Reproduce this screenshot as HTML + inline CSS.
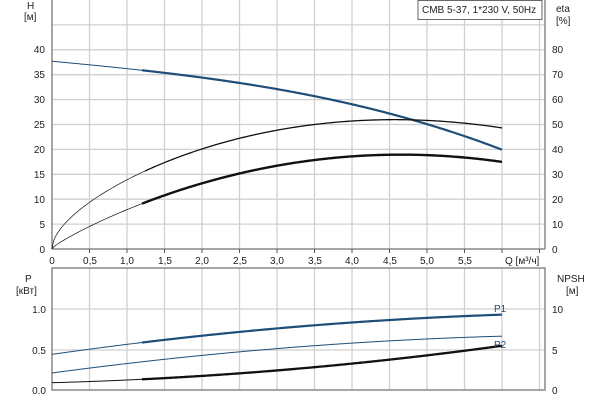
<!DOCTYPE html>
<html><head><meta charset="utf-8"><style>
body{margin:0;background:#fff;}
svg{display:block;font-family:"Liberation Sans",sans-serif;font-size:10px;fill:#222;}
</style></head><body>
<svg id="s" width="600" height="400" viewBox="0 0 600 400" xmlns="http://www.w3.org/2000/svg">
<g id="grid" stroke="#d0d0d0" stroke-width="1.3"></g>
<g stroke="#888" stroke-width="1.5" fill="none">
<line x1="52" y1="0" x2="52" y2="249"/><line x1="545" y1="0" x2="545" y2="249"/><line x1="52" y1="249" x2="545" y2="249"/>
<rect x="52" y="268" width="493" height="122"/>
</g>
<g id="ticks" stroke="#555" stroke-width="1"></g>
<g id="curves" fill="none" stroke-linejoin="round"></g>
<rect x="418" y="0.5" width="124" height="19" fill="#fff" stroke="#666"/>
<text x="422" y="13">CMB 5-37, 1*230 V, 50Hz</text>
<text x="27" y="9">H</text><text x="24" y="20">[м]</text>
<text x="556" y="12">eta</text><text x="556" y="24">[%]</text>
<g text-anchor="end">
<text x="45" y="53">40</text><text x="45" y="78">35</text><text x="45" y="103">30</text><text x="45" y="128">25</text><text x="45" y="153">20</text><text x="45" y="178">15</text><text x="45" y="203">10</text><text x="45" y="228">5</text><text x="45" y="253">0</text>
<text x="46" y="313">1.0</text><text x="46" y="354">0.5</text><text x="46" y="394">0.0</text>
</g>
<g>
<text x="552" y="53">80</text><text x="552" y="78">70</text><text x="552" y="103">60</text><text x="552" y="128">50</text><text x="552" y="153">40</text><text x="552" y="178">30</text><text x="552" y="203">20</text><text x="552" y="228">10</text><text x="552" y="253">0</text>
<text x="552" y="313">10</text><text x="552" y="354">5</text><text x="552" y="394">0</text>
</g>
<g text-anchor="middle">
<text x="52" y="264">0</text><text x="90" y="264">0,5</text><text x="127" y="264">1,0</text><text x="165" y="264">1,5</text><text x="202" y="264">2,0</text><text x="240" y="264">2,5</text><text x="277" y="264">3,0</text><text x="315" y="264">3,5</text><text x="352" y="264">4,0</text><text x="390" y="264">4,5</text><text x="427" y="264">5,0</text><text x="465" y="264">5,5</text>
</g>
<text x="505" y="264">Q [м³/ч]</text>
<text x="25" y="282">P</text><text x="16" y="294">[кВт]</text>
<text x="557" y="282">NPSH</text><text x="566" y="294">[м]</text>
<text x="494" y="312" fill="#1f4e79">P1</text><text x="494" y="348" fill="#1f4e79">P2</text>
</svg>
<script>
var ns="http://www.w3.org/2000/svg";
function el(p,t,a){var e=document.createElementNS(ns,t);for(var k in a)e.setAttribute(k,a[k]);document.getElementById(p).appendChild(e);}
for(var i=1;i<=13;i++){var x=52+37.5*i;if(x>544)break;el("grid","line",{x1:x,y1:0,x2:x,y2:249});el("grid","line",{x1:x,y1:268,x2:x,y2:390});el("ticks","line",{x1:x,y1:249,x2:x,y2:253});}
for(var h=5;h<=45;h+=5){var y=249-4.98*h;el("grid","line",{x1:52,y1:y,x2:545,y2:y});}
[350,309].forEach(function(y){el("grid","line",{x1:52,y1:y,x2:545,y2:y});});
function X(q){return 52+75*q;}
var T=function(v){return 249-4.98*v;},B=function(v){return 390-81*v;};
function poly(f,fy,a,b){var s="";for(var q=a;q<=b+1e-9;q+=0.02){s+=X(q).toFixed(2)+","+fy(f(q)).toFixed(2)+" ";}return s;}
function draw(f,fy,col,w,split,w2){el("curves","polyline",{points:poly(f,fy,0,split),stroke:col,"stroke-width":w});
el("curves","polyline",{points:poly(f,fy,split,6),stroke:col,"stroke-width":w2});}
draw(function(q){return 37.7-1.4*q-0.05*q*q-0.035*q*q*q;},T,"#1f4e79",1,1.2,2.2);
draw(function(q){return 10.8*Math.sqrt(q)+3.789*q-0.691*q*q;},T,"#111",0.7,1.24,1.3);
draw(function(q){return 1.8*Math.sqrt(q)+6.89*q-0.785*q*q;},T,"#111",0.7,1.2,2.4);
draw(function(q){return 0.44+0.1317*q-0.00833*q*q;},B,"#1f4e79",1,1.2,2.2);
draw(function(q){return 0.21+0.125*q-0.0082*q*q;},B,"#1f4e79",1,6,1);
draw(function(q){return 0.09+0.025*q+0.0085*q*q;},B,"#111",1,1.2,2.3);
</script>
</body></html>
